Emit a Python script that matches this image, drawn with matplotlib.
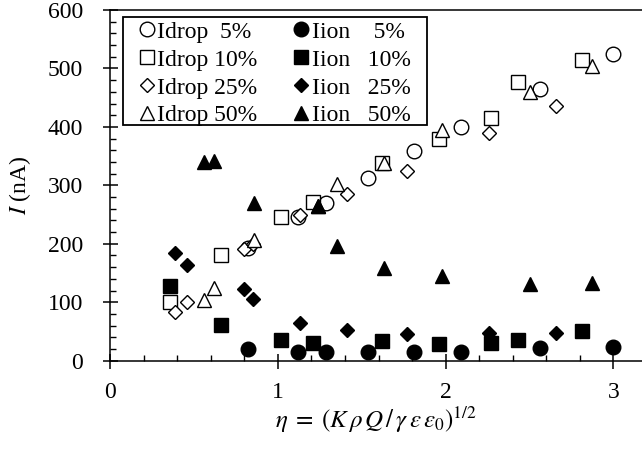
import matplotlib
matplotlib.use("Agg")
import matplotlib.pyplot as plt
from matplotlib.patches import Rectangle
from matplotlib.ticker import MultipleLocator

plt.rcParams["font.family"] = ["Liberation Serif", "DejaVu Serif"]
plt.rcParams["mathtext.fontset"] = "stix"

# 읽어낸 값 (x: eta, y: 전류 nA)
x_5 = [0.82, 1.12, 1.29, 1.54, 1.81, 2.09, 2.56, 3.00]
idrop_5 = [193, 245, 270, 312, 359, 399, 464, 525]
iion_5 = [20, 15, 15, 15, 15, 15, 21, 24]

x_10 = [0.36, 0.66, 1.02, 1.21, 1.62, 1.96, 2.27, 2.43, 2.81]
idrop_10 = [100, 181, 245, 272, 339, 380, 416, 476, 515]
iion_10 = [127, 61, 35, 30, 33, 29, 30, 35, 50]

x_25 = [0.39, 0.46, 0.80, 0.85, 1.13, 1.41, 1.77, 2.26, 2.66]
idrop_25 = [84, 100, 191, 199, 249, 285, 325, 389, 436]
iion_25 = [185, 163, 122, 105, 65, 53, 46, 47, 47]

x_50 = [0.56, 0.62, 0.86, 1.24, 1.35, 1.63, 1.98, 2.50, 2.87]
idrop_50 = [104, 124, 206, 265, 302, 339, 395, 459, 505]
iion_50 = [340, 342, 269, 265, 196, 159, 145, 132, 133]

series_x = [x_5, x_10, x_25, x_50]
series_drop = [idrop_5, idrop_10, idrop_25, idrop_50]
series_ion = [iion_5, iion_10, iion_25, iion_50]
drop_labels = ["Idrop  5%", "Idrop 10%", "Idrop 25%", "Idrop 50%"]
ion_labels = ["Iion    5%", "Iion   10%", "Iion   25%", "Iion   50%"]
markers = ["o", "s", "D", "^"]
sizes = [10.5, 10.5, 7.4, 10.5]

fig = plt.figure(figsize=(6.42, 4.51), dpi=100)
# 오른쪽 끝(x=3.2)은 그림 밖으로 살짝 잘리게 둔다 — 원본도 오른쪽 테두리가 없다
ax = fig.add_axes([110 / 642, 90.3 / 451, 537 / 642, 350.7 / 451])

for xs, ys, lab, m, ms in zip(series_x, series_drop, drop_labels, markers, sizes):
    ax.plot(xs, ys, ls="none", marker=m, ms=ms, mfc="white", mec="black",
            mew=1.0, label=lab, clip_on=False)
for xs, ys, lab, m, ms in zip(series_x, series_ion, ion_labels, markers, sizes):
    ax.plot(xs, ys, ls="none", marker=m, ms=ms, mfc="black", mec="black",
            mew=1.0, label=lab, clip_on=False)

ax.set_xlim(0, 3.2)
ax.set_ylim(0, 600)
ax.xaxis.set_major_locator(MultipleLocator(1))
ax.xaxis.set_minor_locator(MultipleLocator(0.2))
ax.yaxis.set_major_locator(MultipleLocator(100))
ax.yaxis.set_minor_locator(MultipleLocator(20))

for side in ("left", "bottom", "top"):
    ax.spines[side].set_linewidth(1.1)
ax.spines["right"].set_visible(False)

ax.tick_params(which="major", direction="inout", length=10.8, width=1.1,
               labelsize=17, top=False, right=False)
ax.tick_params(axis="x", which="major", pad=10)
ax.tick_params(axis="y", which="major", pad=14)
ax.tick_params(which="minor", direction="in", length=4.3, width=1.0,
               top=False, right=False)

ax.set_ylabel(r"$I$ (nA)", fontsize=17)
ax.yaxis.set_label_coords(-0.143, 0.5)
ax.set_xlabel(r"$\eta\;=\;(K\,\rho\,Q\,/\,\gamma\,\varepsilon\,\varepsilon_0)^{1/2}$",
              fontsize=18)
ax.xaxis.set_label_coords(0.495, -0.124)

# 범례 틀은 따로 그린다(원본은 세로 여백이 좁고 가로 여백이 넓음)
ax.add_patch(Rectangle((0.0242, 0.672), 0.5658, 0.309, transform=ax.transAxes,
                       fill=True, facecolor="white", edgecolor="black",
                       lw=1.3, zorder=4, clip_on=False))
leg = ax.legend(ncol=2, loc="upper left", bbox_to_anchor=(0.0529, 0.968),
                borderaxespad=0, borderpad=0, fontsize=17, frameon=False,
                handlelength=0.7, handletextpad=0.1, columnspacing=1.5,
                labelspacing=0.27)
leg.set_zorder(5)

fig.savefig("out.png", dpi=100)
